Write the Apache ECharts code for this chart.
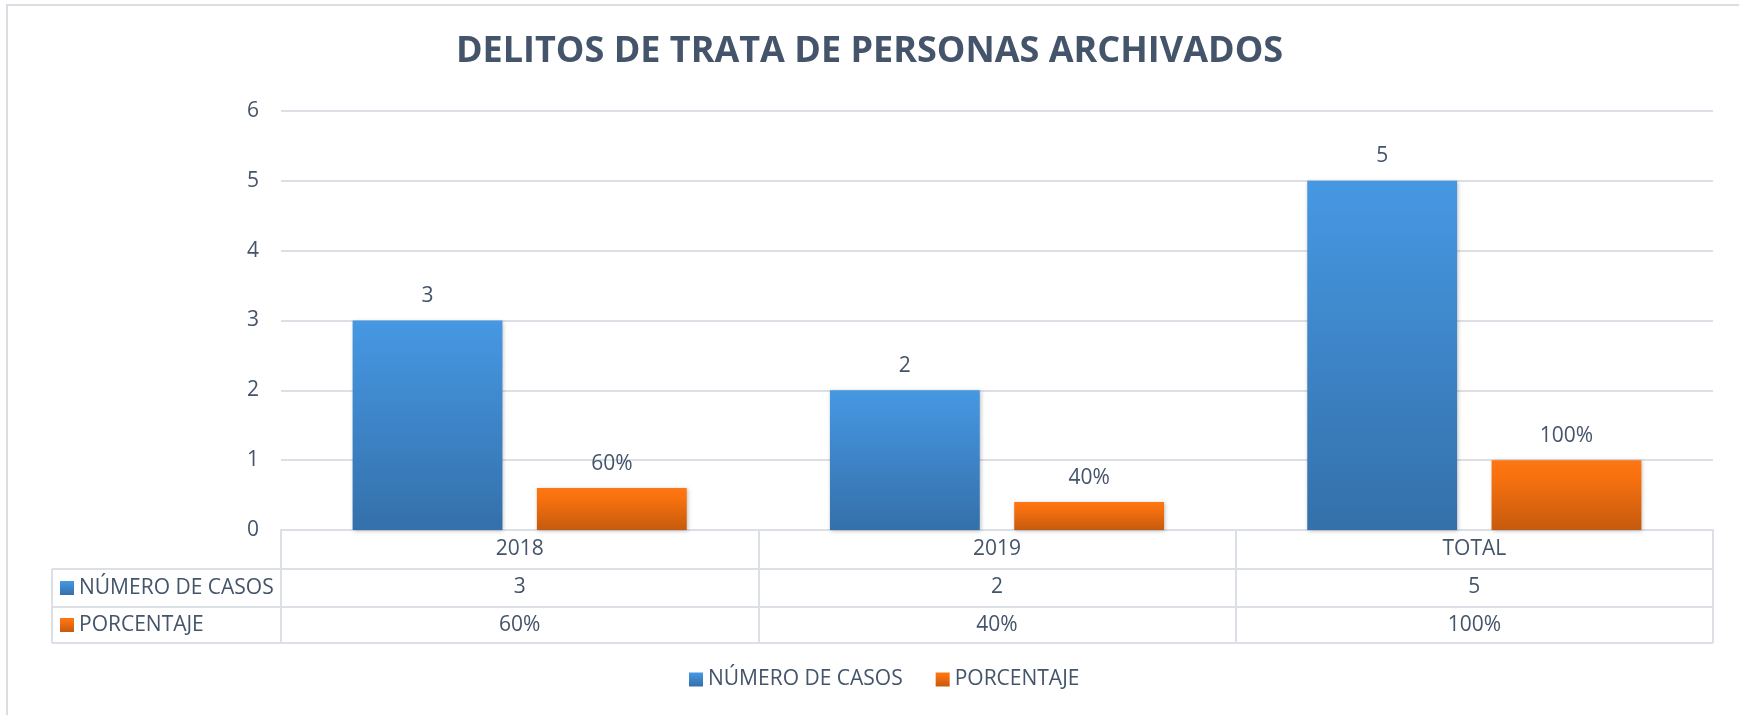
<!DOCTYPE html>
<html>
<head>
<meta charset="utf-8">
<script src="https://cdn.jsdelivr.net/npm/echarts@6/dist/echarts.min.js"></script>
<style>
html,body{margin:0;padding:0;background:#fff;}
#chart{width:1739px;height:715px;}
</style>
</head>
<body>
<div id="chart"></div>
<script>
const titleText = 'DELITOS DE TRATA DE PERSONAS ARCHIVADOS';
const categories = ['2018', '2019', 'TOTAL'];
const seriesNames = ['NÚMERO DE CASOS', 'PORCENTAJE'];
const numeroCasos = [3, 2, 5];
const porcentaje = [0.6, 0.4, 1.0];
const yTicks = [0, 1, 2, 3, 4, 5, 6];

const FONT = '"Open Sans", "Noto Sans", sans-serif';
const TXT = '#44546A';
const LINE = '#DCE0E6';

const pctLabel = v => Math.round(v * 100) + '%';

const blueGrad = new echarts.graphic.LinearGradient(0, 0, 0, 1, [
  {offset: 0, color: '#4698E3'}, {offset: 1, color: '#3470AA'}]);
const orangeGrad = new echarts.graphic.LinearGradient(0, 0, 0, 1, [
  {offset: 0, color: '#FF7614'}, {offset: 0.25, color: '#F7710F'}, {offset: 1, color: '#C65A0E'}]);

const chart = echarts.init(document.getElementById('chart'), null, {renderer: 'canvas'});

const L = 52, PL = 281, PR = 1713, T0 = 530, R1 = 569, R2 = 607, R3 = 643;

const option = {
  backgroundColor: '#fff',
  animation: false,
  title: {
    text: titleText, left: 'center', top: 29,
    textStyle: {color: TXT, fontFamily: FONT, fontWeight: 'bold', fontSize: 36}
  },
  legend: {
    data: seriesNames, bottom: 20, left: 684,
    icon: 'rect', itemWidth: 14, itemHeight: 14, itemGap: 33,
    textStyle: {color: TXT, fontFamily: FONT, fontSize: 21}
  },
  grid: {left: PL, right: 1739 - PR, top: 111, bottom: 715 - T0, containLabel: false},
  xAxis: {
    type: 'category', data: categories,
    axisLine: {show: true, lineStyle: {color: LINE, width: 2}},
    axisTick: {show: true, length: R3 - T0, lineStyle: {color: LINE, width: 2}},
    axisLabel: {
      margin: 0, color: TXT, fontFamily: FONT, fontSize: 21, lineHeight: 38,
      formatter: (v, i) => v + '\n' + numeroCasos[i] + '\n' + pctLabel(porcentaje[i])
    }
  },
  yAxis: {
    type: 'value', min: yTicks[0], max: yTicks[yTicks.length - 1], interval: 1,
    axisLine: {show: false}, axisTick: {show: false},
    axisLabel: {margin: 22, color: TXT, fontFamily: FONT, fontSize: 21},
    splitLine: {lineStyle: {color: LINE, width: 2}}
  },
  series: [
    {
      name: seriesNames[0], type: 'bar', data: numeroCasos,
      barCategoryGap: '30%', barGap: '23%',
      itemStyle: {color: blueGrad, shadowBlur: 4, shadowColor: 'rgba(0,0,0,0.25)', shadowOffsetX: 1, shadowOffsetY: 1},
      label: {show: true, position: 'top', distance: 14, color: TXT, fontFamily: FONT, fontSize: 21},
      z: 3
    },
    {
      name: seriesNames[1], type: 'bar', data: porcentaje,
      barCategoryGap: '30%', barGap: '23%',
      itemStyle: {color: orangeGrad, shadowBlur: 4, shadowColor: 'rgba(0,0,0,0.25)', shadowOffsetX: 1, shadowOffsetY: 1},
      label: {show: true, position: 'top', distance: 14, color: TXT, fontFamily: FONT, fontSize: 21,
        formatter: p => pctLabel(p.value)},
      z: 3
    }
  ],
  graphic: [
    {type: 'rect', shape: {x: 7, y: 5, width: 1760, height: 760}, style: {fill: 'none', stroke: '#DADDE2', lineWidth: 2}, silent: true},
    {type: 'line', shape: {x1: L, y1: R1, x2: PR, y2: R1}, style: {stroke: LINE, lineWidth: 2}},
    {type: 'line', shape: {x1: L, y1: R2, x2: PR, y2: R2}, style: {stroke: LINE, lineWidth: 2}},
    {type: 'line', shape: {x1: L, y1: R3, x2: PR, y2: R3}, style: {stroke: LINE, lineWidth: 2}},
    {type: 'line', shape: {x1: L, y1: R1, x2: L, y2: R3}, style: {stroke: LINE, lineWidth: 2}},
    {type: 'rect', shape: {x: 60, y: 581, width: 14, height: 14}, style: {fill: blueGrad}},
    {type: 'text', x: 79, y: (R1 + R2) / 2, style: {text: seriesNames[0], fill: TXT, font: '21px ' + FONT, textVerticalAlign: 'middle'}},
    {type: 'rect', shape: {x: 60, y: 618, width: 14, height: 14}, style: {fill: orangeGrad}},
    {type: 'text', x: 79, y: (R2 + R3) / 2, style: {text: seriesNames[1], fill: TXT, font: '21px ' + FONT, textVerticalAlign: 'middle'}}
  ]
};
chart.setOption(option);
</script>
</body>
</html>
